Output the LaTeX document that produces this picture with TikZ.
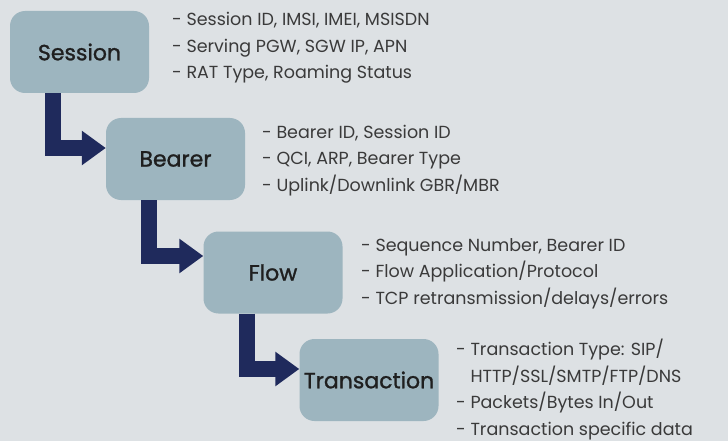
\documentclass[tikz,border=0pt]{standalone}
\usepackage{fontspec}
\setmainfont{Poppins}
\newfontfamily\lvlfont{Poppins}[FakeBold=1.2]
\usetikzlibrary{arrows.meta}
\definecolor{mybg}{RGB}{221,225,228}
\definecolor{mybox}{RGB}{157,181,191}
\definecolor{mynavy}{RGB}{31,42,92}
\definecolor{mytext}{RGB}{58,58,58}

\begin{document}
\begin{tikzpicture}[
    x = 1pt, y = -1pt,
    lvl/.style = {fill = mybox, rounded corners = 15pt, minimum width = 139pt, minimum height = 82pt, inner sep = 0pt, text = black!88, font = \lvlfont\fontsize{22}{22}\selectfont},
    info/.style = {anchor = base west, align = left, inner sep = 0pt, text = mytext, font = \fontsize{17.5}{26.5}\selectfont},
    elbow/.style = {draw = mynavy, line width = 16pt, line join = miter, -{Triangle[width = 33pt, length = 24pt]}},
]

\useasboundingbox[fill = mybg] (0,0) rectangle (728,441);

% the four levels
\node[lvl] (session) at (79.5,52) {Session};
\node[lvl] (bearer) at (175.5,159) {Bearer};
\node[lvl] (flow) at (273,272.5) {Flow};
\node[lvl] (trans) at (369,380) {Transaction};

% elbow arrows
\draw[elbow] ([xshift = -26.5pt]session.south) |- ([yshift = 11pt]bearer.west);
\draw[elbow] ([xshift = -26.5pt]bearer.south) |- ([yshift = 16.5pt]flow.west);
\draw[elbow] ([xshift = -26.5pt]flow.south) |- ([yshift = 11pt]trans.west);

% attribute lists (anchored at the last line)
\node[info] (sessinfo) at (172,79) {- Session ID, IMSI, IMEI, MSISDN\\- Serving PGW, SGW IP, APN\\- RAT Type, Roaming Status};
\node[info] (bearinfo) at (262,191) {- Bearer ID, Session ID\\- QCI, ARP, Bearer Type\\- Uplink/Downlink GBR/MBR};
\node[info] (flowinfo) at (361,304) {- Sequence Number, Bearer ID\\- Flow Application/Protocol\\- TCP retransmission/delays/errors};
\node[info] (transinfo) at (456,435) {- Transaction Type: SIP/\\\phantom{- }HTTP/SSL/SMTP/FTP/DNS\\- Packets/Bytes In/Out\\- Transaction specific data};

\end{tikzpicture}
\end{document}
